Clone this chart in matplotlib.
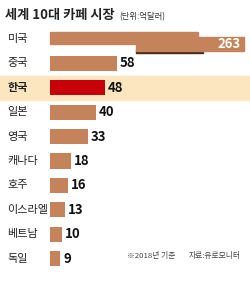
import matplotlib
matplotlib.use("Agg")
from matplotlib import pyplot as plt
from matplotlib.patches import Rectangle

plt.rcParams["font.family"] = ["Noto Sans CJK KR", "DejaVu Sans"]

COUNTRIES = ["미국", "중국", "한국", "일본", "영국", "캐나다", "호주", "이스라엘", "베트남", "독일"]
VALUES = [263, 58, 48, 40, 33, 18, 16, 13, 10, 9]
HIGHLIGHT = "한국"

TITLE = "세계 10대 카페 시장"
UNIT = "(단위:억달러)"
NOTE = "※2018년 기준"
SOURCE = "자료:유로모니터"

BAR_COLOR = "#C4835A"
HIGHLIGHT_COLOR = "#C8000A"
BAND_COLOR = "#FBE6C0"

PX_PER_UNIT = 1.15
CAP = 170  # axis ends here, the longest bar is drawn broken

fig = plt.figure(figsize=(2.5, 2.81), dpi=100)
ax = fig.add_axes([0, 0, 1, 1])
ax.set_xlim(-50 / PX_PER_UNIT, 200 / PX_PER_UNIT)
ax.set_ylim((281 - 39) / 24.4, -39 / 24.4)
ax.axis("off")

bar_h = 0.62
for i, (name, v) in enumerate(zip(COUNTRIES, VALUES)):
    color = HIGHLIGHT_COLOR if name == HIGHLIGHT else BAR_COLOR
    if name == HIGHLIGHT:
        ax.axhspan(i - 0.5, i + 0.5, color=BAND_COLOR, zorder=0)
    weight = "bold" if name == HIGHLIGHT else "normal"
    ax.text(-37, i, name, ha="left", va="center", fontsize=8,
            color="#222222", fontweight=weight)
    if v > CAP:
        # broken bar: upper part then a shifted lower part
        ax.add_patch(Rectangle((0, i - 0.3), 129, 0.52, color=color, zorder=2))
        ax.add_patch(Rectangle((75, i + 0.45), 58, 0.13, color="#4A2A18", zorder=2))
        ax.add_patch(Rectangle((75, i - 0.08), 94, 0.56, color=color, zorder=3))
        ax.text(166, i + 0.2, str(v), ha="right", va="center", fontsize=9.5,
                color="white", fontweight="bold", zorder=4)
    else:
        ax.barh(i, v, height=bar_h, color=color, zorder=2)
        ax.text(v + 2.5, i, str(v), ha="left", va="center", fontsize=9.5,
                color="#111111", fontweight="bold")

ax.text(-39, -0.98, TITLE, ha="left", va="center", fontsize=9.5,
        fontweight="bold", color="#222222")
ax.text(60, -0.92, UNIT, ha="left", va="center", fontsize=6, color="#333333")
ax.text(67, 8.9, NOTE, ha="left", va="center", fontsize=5.6, color="#444444")
ax.text(121, 8.9, SOURCE, ha="left", va="center", fontsize=5.6, color="#444444")

fig.savefig("out.png", dpi=100)
